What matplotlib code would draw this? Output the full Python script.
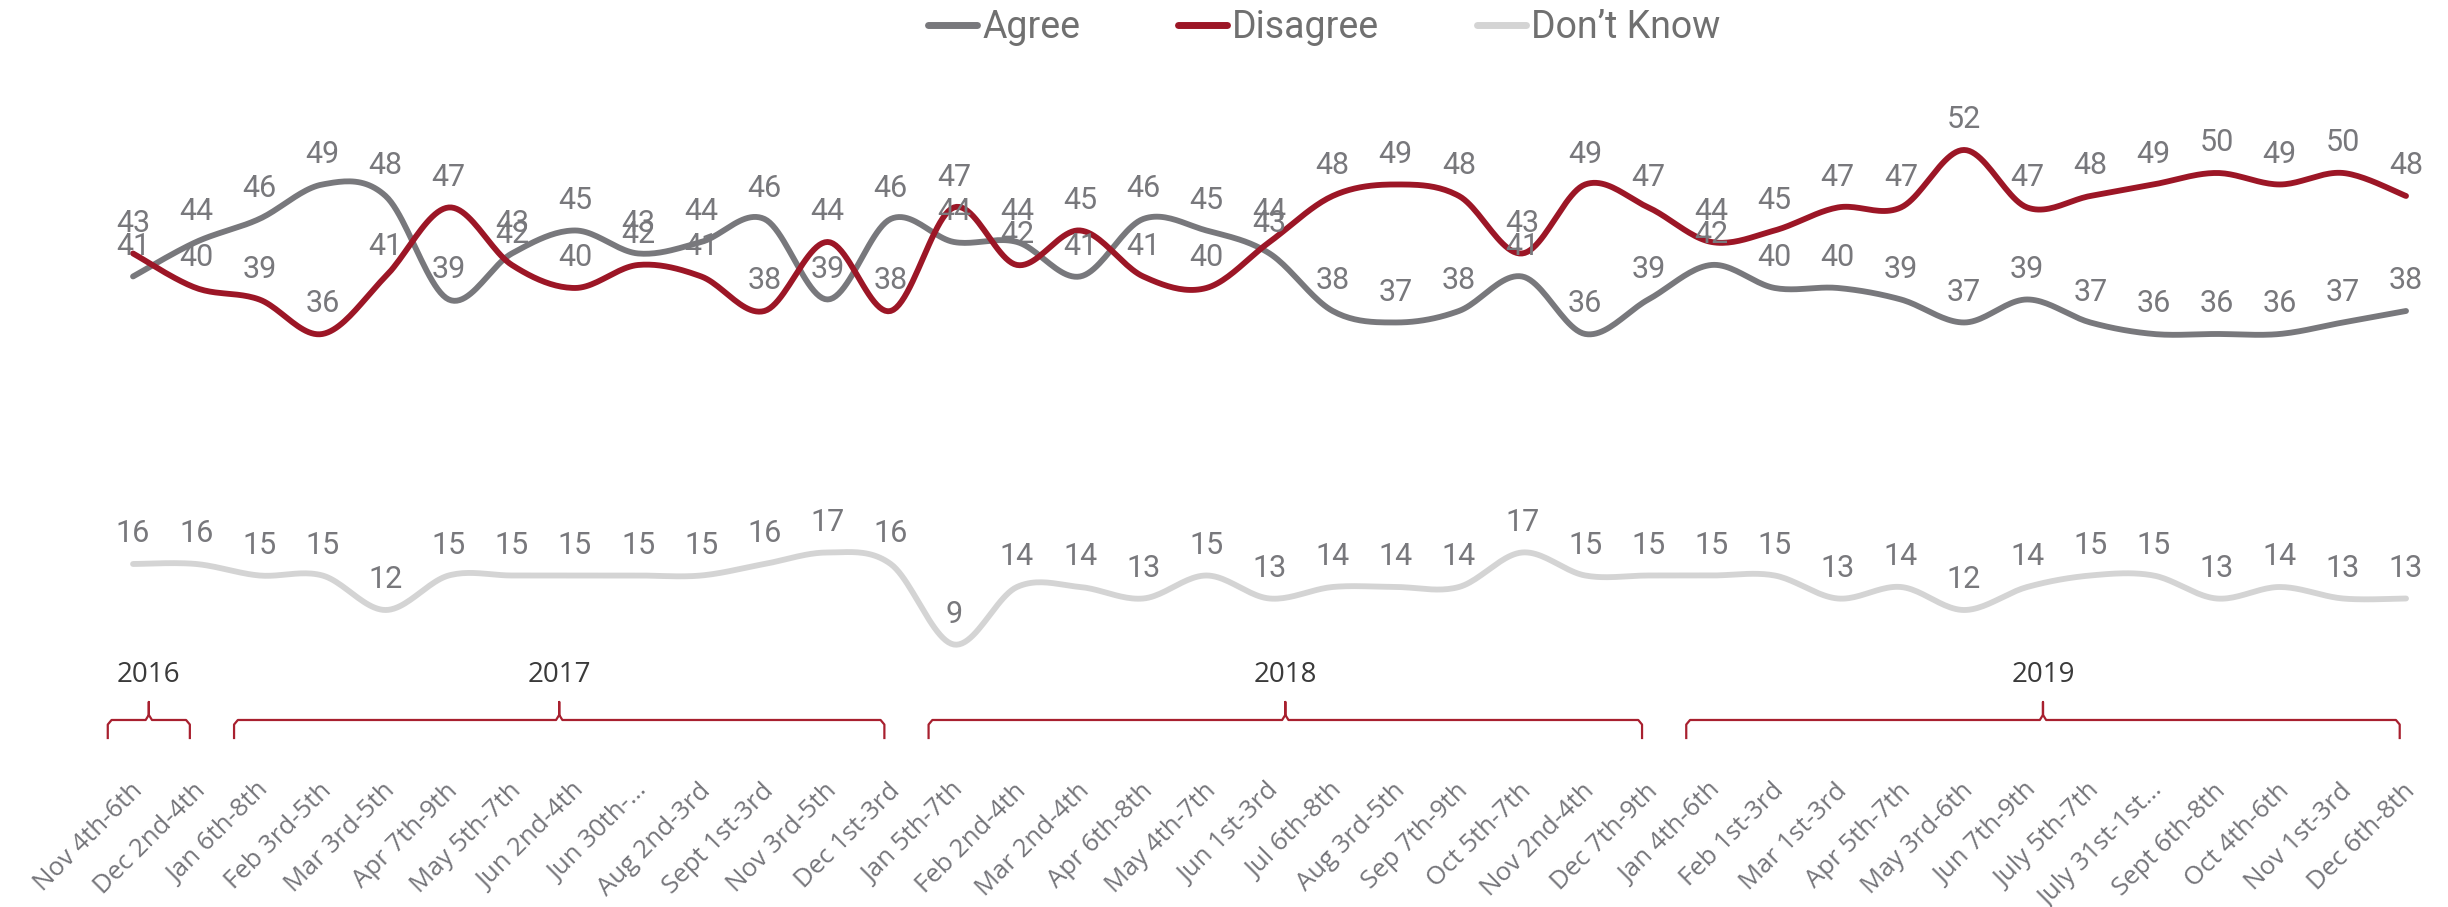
import numpy as np
import matplotlib.pyplot as plt
from matplotlib import font_manager
import matplotlib.transforms as mtransforms

# ---------- data -----------------------------
dates = ["Nov 4th-6th", "Dec 2nd-4th", "Jan 6th-8th", "Feb 3rd-5th", "Mar 3rd-5th",
         "Apr 7th-9th", "May 5th-7th", "Jun 2nd-4th", "Jun 30th-…", "Aug 2nd-3rd",
         "Sept 1st-3rd", "Nov 3rd-5th", "Dec 1st-3rd", "Jan 5th-7th", "Feb 2nd-4th",
         "Mar 2nd-4th", "Apr 6th-8th", "May 4th-7th", "Jun 1st-3rd", "Jul 6th-8th",
         "Aug 3rd-5th", "Sep 7th-9th", "Oct 5th-7th", "Nov 2nd-4th", "Dec 7th-9th",
         "Jan 4th-6th", "Feb 1st-3rd", "Mar 1st-3rd", "Apr 5th-7th", "May 3rd-6th",
         "Jun 7th-9th", "July 5th-7th", "July 31st-1st…", "Sept 6th-8th", "Oct 4th-6th",
         "Nov 1st-3rd", "Dec 6th-8th"]

agree = [41, 44, 46, 49, 48, 39, 43, 45, 43, 44, 46, 39, 46, 44, 44, 41, 46, 45, 43,
         38, 37, 38, 41, 36, 39, 42, 40, 40, 39, 37, 39, 37, 36, 36, 36, 37, 38]
disagree = [43, 40, 39, 36, 41, 47, 42, 40, 42, 41, 38, 44, 38, 47, 42, 45, 41, 40, 44,
            48, 49, 48, 43, 49, 47, 44, 45, 47, 47, 52, 47, 48, 49, 50, 49, 50, 48]
dont_know = [16, 16, 15, 15, 12, 15, 15, 15, 15, 15, 16, 17, 16, 9, 14, 14, 13, 15, 13,
             14, 14, 14, 17, 15, 15, 15, 15, 13, 14, 12, 14, 15, 15, 13, 14, 13, 13]

years = ["2016", "2017", "2018", "2019"]
year_counts = [2, 11, 12, 12]

C_AGREE = "#78787c"
C_DIS = "#9c1626"
C_DK = "#d4d4d4"
C_LABEL = "#78787c"
C_BRACKET = "#a8202f"


def pick_font(names):
    avail = {f.name for f in font_manager.fontManager.ttflist}
    for n in names:
        if n in avail:
            return n
    return "DejaVu Sans"


NARROW = pick_font(["Liberation Sans Narrow", "Roboto", "DejaVu Sans"])
TICKF = pick_font(["Open Sans", "Lato", "DejaVu Sans"])


def smooth(x, y, n=24):
    # excel-like smoothed line: catmull-rom as cubic bezier
    x = np.asarray(x, float)
    y = np.asarray(y, float)
    px = np.concatenate([[x[0]], x, [x[-1]]])
    py = np.concatenate([[y[0]], y, [y[-1]]])
    xs, ys = [], []
    t = np.linspace(0, 1, n)
    for i in range(1, len(px) - 2):
        p0 = np.array([px[i], py[i]])
        p3 = np.array([px[i + 1], py[i + 1]])
        p1 = p0 + (p3 - np.array([px[i - 1], py[i - 1]])) / 6
        p2 = p3 - (np.array([px[i + 2], py[i + 2]]) - p0) / 6
        b = ((1 - t) ** 3)[:, None] * p0 + (3 * (1 - t) ** 2 * t)[:, None] * p1 \
            + (3 * (1 - t) * t ** 2)[:, None] * p2 + (t ** 3)[:, None] * p3
        xs.append(b[:, 0])
        ys.append(b[:, 1])
    return np.concatenate(xs), np.concatenate(ys)


fig = plt.figure(figsize=(24.48, 9.07), dpi=100)
ax = fig.add_axes([0.02855, 0.1753, 0.9672, 0.7608])
ax.set_xlim(-1, 36.5)
ax.set_ylim(0, 60)
ax.axis("off")

x = np.arange(len(dates))
series = [("Agree", agree, C_AGREE), ("Disagree", disagree, C_DIS), ("Don\u2019t Know", dont_know, C_DK)]
for name, vals, col in series:
    sx, sy = smooth(x, vals)
    ax.plot(sx, sy, color=col, lw=4.2, solid_capstyle="round", label=name)

for name, vals, col in series:
    for xi, v in zip(x, vals):
        ax.annotate(str(v), (xi, v), xytext=(0, 30), textcoords="offset pixels",
                    ha="center", va="center", fontsize=22, color=C_LABEL, family=NARROW)

# category labels
trans = mtransforms.blended_transform_factory(ax.transData, ax.transAxes)
for xi, lab in zip(x, dates):
    ax.text(xi - 0.05, -0.044, lab, transform=trans, rotation=45, ha="right", va="top",
            rotation_mode="anchor", fontsize=18.5, color="#75757a", family=TICKF, clip_on=False)

# year brackets
start = 0
for yr, cnt in zip(years, year_counts):
    x0 = start - 0.4
    x1 = start + cnt - 1 - 0.1
    xc = (x0 + x1) / 2
    bx = [x0, x0, x0 + 0.06, xc - 0.05, xc, xc, xc, xc + 0.05, x1 - 0.06, x1, x1]
    by = [0.0145, 0.034, 0.0406, 0.0406, 0.048, 0.0667, 0.048, 0.0406, 0.0406, 0.034, 0.0145]
    ax.plot(bx, by, transform=trans, color=C_BRACKET, lw=1.6, clip_on=False)
    ax.text(xc, 0.1058, yr, transform=trans, ha="center", va="center", fontsize=20,
            color="#3a3a3a", family=TICKF)
    start += cnt

leg = fig.legend(loc="upper center", bbox_to_anchor=(0.541, 1.027), ncol=3, frameon=False,
                 handlelength=1.3, handletextpad=0.15, columnspacing=2.6,
                 prop={"family": NARROW, "size": 27})
for t in leg.get_texts():
    t.set_color("#707070")
for h in leg.get_lines():
    h.set_linewidth(5)

fig.savefig("out.png", dpi=100)
